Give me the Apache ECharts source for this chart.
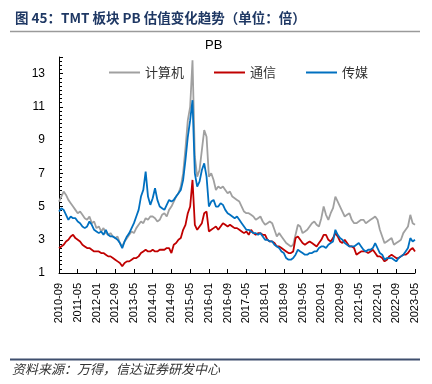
<!DOCTYPE html>
<html><head><meta charset="utf-8">
<script src="https://cdn.jsdelivr.net/npm/echarts@6/dist/echarts.min.js"></script>
<style>html,body{margin:0;padding:0;background:#fff}#c{width:432px;height:384px}</style>
</head><body><div id="c"></div>
<script>
// monthly categories 2010-09 .. 2023-05
const startYear = 2010, startMonth = 9, monthCount = 153;
const categories = [];
for (let i = 0; i < monthCount; i++) {
  const m = startMonth - 1 + i;
  const y = startYear + Math.floor(m / 12);
  const mm = (m % 12) + 1;
  categories.push(y + '-' + (mm < 10 ? '0' + mm : mm));
}
const seriesNames = ['计算机', '通信', '传媒'];
const computer = [
  5.3, 5.6, 5.9, 5.7,
  5.4, 5.2, 5.0, 4.8, 4.6, 4.7, 4.5, 4.3, 4.2, 4.4, 4.0, 4.1,
  3.7, 3.8, 3.5, 3.7, 3.4, 3.3, 3.4, 3.2, 3.1, 3.2, 2.8, 2.6,
  2.9, 3.1, 3.3, 3.5, 3.4, 3.7, 3.9, 4.1, 4.0, 4.3, 4.2, 4.4,
  4.4, 4.3, 4.1, 4.2, 4.5, 4.6, 4.4, 4.8, 5.0, 5.3, 5.6, 5.8,
  6.2, 7.0, 8.5, 10.2, 11.0, 13.8, 8.0, 6.8, 7.2, 8.4, 9.6, 9.2,
  6.8, 7.0, 6.6, 6.0, 6.2, 6.1, 6.2, 6.0, 5.8, 5.9, 5.6, 5.5,
  5.4, 5.3, 5.0, 4.7, 4.6, 4.6, 4.5, 4.4, 4.2, 4.3, 4.4, 4.1,
  3.9, 4.0, 4.1, 4.0, 3.6, 3.2, 3.4, 3.2, 3.0, 2.8, 2.7, 2.6,
  2.7, 3.3, 3.9, 3.8, 3.4, 3.5, 3.6, 3.8, 4.0, 4.1, 3.9, 3.8,
  4.3, 5.0, 4.5, 4.2, 4.6, 4.9, 5.6, 5.3, 5.0, 4.7, 4.4, 4.5,
  4.6, 4.2, 4.0, 4.0, 4.1, 4.2, 4.2, 4.0, 4.1, 4.2, 4.3, 4.4,
  4.2, 3.6, 3.2, 2.8, 2.9, 3.0, 3.1, 2.7, 2.8, 2.9, 3.0, 3.4,
  3.6, 3.8, 4.5, 4.0, 3.9
];
const telecom = [
  2.5, 2.6, 2.7, 2.9,
  3.0, 3.2, 3.3, 3.1, 3.0, 2.9, 2.7, 2.6, 2.5, 2.5, 2.4, 2.3,
  2.3, 2.3, 2.2, 2.2, 2.1, 2.0, 2.0, 1.9, 1.8, 1.7, 1.6, 1.4,
  1.6, 1.7, 1.7, 1.8, 1.9, 1.9, 2.0, 2.2, 2.3, 2.4, 2.3, 2.3,
  2.4, 2.3, 2.3, 2.4, 2.4, 2.4, 2.5, 2.5, 2.2, 2.7, 2.8, 3.0,
  3.1, 3.6, 3.9, 4.6, 5.0, 6.6, 3.9, 3.6, 3.8, 4.0, 4.6, 4.7,
  3.5, 3.6, 3.7, 3.8, 3.6, 3.8, 4.0, 3.9, 3.8, 3.9, 3.8, 3.7,
  3.7, 3.6, 3.5, 3.4, 3.5, 3.3, 3.6, 3.4, 3.3, 3.4, 3.4, 3.3,
  3.3, 3.0, 2.9, 2.9, 2.8, 2.6, 2.6, 2.5, 2.4, 2.3, 2.2, 2.2,
  2.3, 3.1, 3.2, 3.0, 2.8, 2.7, 2.8, 2.9, 2.8, 2.7, 2.6, 2.8,
  3.0, 3.3, 3.3, 3.0, 2.9, 3.1, 3.4, 3.2, 2.9, 2.8, 3.0, 2.8,
  2.6, 2.6, 2.5, 2.1, 2.2, 2.3, 2.3, 2.3, 2.2, 2.3, 2.4, 2.2,
  2.0, 2.0, 1.9, 1.7, 1.8, 2.0, 2.1, 2.0, 1.9, 1.9, 2.0, 2.1,
  2.1, 2.2, 2.4, 2.5, 2.3
];
const media = [
  4.7, 4.9, 4.8, 4.5,
  4.2, 4.4, 4.3, 4.3, 4.1, 4.0, 3.8, 3.7, 3.8, 4.1, 3.9, 3.6,
  3.5, 3.4, 3.5, 3.3, 3.6, 3.3, 3.2, 3.2, 3.1, 3.0, 2.8, 2.5,
  2.9, 3.2, 3.4, 3.7, 4.0, 4.4, 4.8, 5.6, 6.0, 7.1, 5.6, 5.1,
  5.5, 6.1, 5.4, 5.0, 4.9, 4.8, 5.1, 5.4, 5.3, 5.4, 5.6, 5.8,
  6.0, 6.6, 7.8, 9.2, 10.2, 11.4, 7.0, 6.2, 6.5, 7.2, 7.6, 6.8,
  5.0, 5.3, 5.4, 5.0, 5.0, 5.2, 5.1, 4.8, 4.6, 4.5, 4.4, 4.3,
  4.4, 4.2, 4.0, 3.8, 3.6, 3.6, 3.5, 3.4, 3.4, 3.3, 3.4, 3.2,
  3.0, 3.0, 2.9, 2.9, 2.7, 2.6, 2.5, 2.3, 2.2, 1.9, 1.8, 1.8,
  1.9, 2.1, 2.4, 2.3, 2.2, 2.1, 2.1, 2.2, 2.2, 2.3, 2.3, 2.5,
  2.6, 2.6, 2.5, 2.7, 2.8, 2.9, 3.6, 3.3, 3.1, 3.0, 2.8, 2.7,
  2.6, 2.6, 2.6, 2.7, 2.8, 2.6, 2.4, 2.3, 2.4, 2.4, 2.5, 2.8,
  2.5, 2.2, 2.1, 1.8, 1.9, 1.9, 1.9, 1.8, 1.7, 1.9, 2.0, 2.1,
  2.3, 2.5, 3.1, 2.9, 3.0
];
const yMin = 1, yMax = 14, yStep = 2;

const chart = echarts.init(document.getElementById('c'), null, {renderer: 'canvas'});
const font = 'Liberation Sans, Arial, sans-serif';
const cjk = '"Noto Sans CJK SC", sans-serif';
chart.setOption({
  animation: false,
  backgroundColor: '#fff',
  color: ['#a0a0a0', '#c00000', '#0070c0'],
  title: {
    text: '图 45：TMT 板块 PB 估值变化趋势（单位：倍）',
    left: 10, top: 6,
    textStyle: {fontFamily: cjk, fontSize: 13.5, fontWeight: 'bold', color: '#1f3864'}
  },
  legend: {
    data: seriesNames,
    left: 104, top: 61, width: 320, orient: 'horizontal',
    icon: 'rect', itemWidth: 31, itemHeight: 2, itemGap: 30,
    textStyle: {fontFamily: cjk, fontSize: 13, color: '#333'}
  },
  grid: {left: 59, right: 17, top: 57, bottom: 111, containLabel: false},
  xAxis: {
    type: 'category', data: categories, boundaryGap: false,
    axisLine: {lineStyle: {color: '#000', width: 1}},
    axisTick: {inside: true, interval: 7, length: 4, lineStyle: {color: '#000'}},
    axisLabel: {interval: 7, rotate: 90, margin: 10, fontFamily: font, fontSize: 11, color: '#000'},
    splitLine: {show: false}
  },
  yAxis: {
    type: 'value', min: yMin, max: yMax, interval: yStep,
    axisLine: {show: true, lineStyle: {color: '#000', width: 1}},
    axisTick: {show: true, inside: true, length: 4, lineStyle: {color: '#000'}},
    minorTick: {show: true, splitNumber: 8, length: 3, lineStyle: {color: '#000'}},
    axisLabel: {margin: 14, fontFamily: font, fontSize: 12, color: '#000',
      formatter: v => (v === yMax ? '' : v)},
    splitLine: {show: false}
  },
  series: [
    {name: seriesNames[0], type: 'line', data: computer, symbol: 'none', lineStyle: {width: 1.8}},
    {name: seriesNames[1], type: 'line', data: telecom, symbol: 'none', lineStyle: {width: 1.8}},
    {name: seriesNames[2], type: 'line', data: media, symbol: 'none', lineStyle: {width: 1.8}}
  ],
  graphic: [
    {type: 'line', shape: {x1: 10, y1: 31.5, x2: 420, y2: 31.5}, style: {stroke: '#9a9a9a', lineWidth: 1.5}},
    {type: 'text', left: 205, top: 39, style: {text: 'PB', fontFamily: font, fontSize: 13, fill: '#000'}},
    {type: 'line', shape: {x1: 10, y1: 359.5, x2: 420, y2: 359.5}, style: {stroke: '#3f4f6e', lineWidth: 2}},
    {type: 'text', left: 12, top: 363, style: {text: '资料来源：万得，信达证券研发中心', fontFamily: cjk, fontSize: 13, fontStyle: 'italic', fill: '#333'}}
  ]
});
</script></body></html>
